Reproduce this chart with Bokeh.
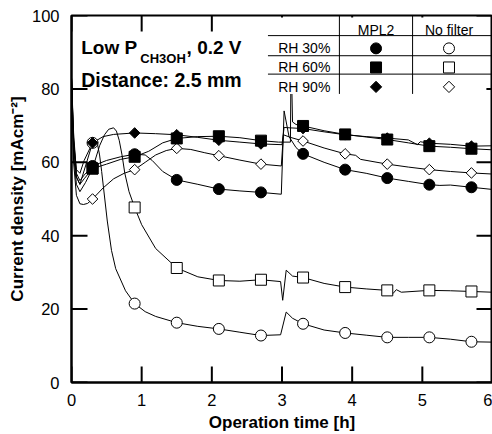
import math
from bokeh.plotting import figure
from bokeh.models import Range1d, FixedTicker
from bokeh.core.properties import value
from bokeh.embed import file_html
from bokeh.resources import INLINE

FONT = "Liberation Sans"

# ---------------- data ----------------
x_ticks = [0, 1, 2, 3, 4, 5, 6]
y_ticks = [0, 20, 40, 60, 80, 100]

series_names = ["MPL2", "No filter"]
rh_labels = ["RH 30%", "RH 60%", "RH 90%"]

# marker times (h)
mark_t = [0.3, 0.9, 1.5, 2.1, 2.7, 3.3, 3.9, 4.5, 5.1, 5.7]

# MPL2, RH 30 %
c30m_t = [0, 0.03, 0.07, 0.12, 0.18, 0.3, 0.5, 0.7, 0.9, 1.05, 1.15, 1.3, 1.5, 1.8, 2.1, 2.4, 2.7, 2.99, 3.03, 3.1, 3.2, 3.3, 3.6, 3.9, 4.2, 4.5, 4.8, 5.1, 5.25, 5.4, 5.7, 6.0]
c30m_v = [83, 68, 57, 55, 56.5, 59, 60.5, 61.5, 62.2, 62, 60.5, 57.5, 55.2, 54, 52.7, 52.2, 51.8, 51.3, 74, 67, 64, 62.3, 60, 58, 57, 55.7, 54.8, 53.9, 53.7, 53.8, 53.2, 52.6]
m30m_v = [59, 62.2, 55.2, 52.7, 51.8, 62.3, 58, 55.7, 53.9, 53.2]

# MPL2, RH 60 %
c60m_t = [0, 0.03, 0.07, 0.12, 0.18, 0.3, 0.5, 0.7, 0.9, 1.1, 1.3, 1.5, 1.8, 2.1, 2.4, 2.7, 2.95, 3.12, 3.13, 3.15, 3.2, 3.3, 3.6, 3.9, 4.2, 4.5, 4.8, 5.1, 5.4, 5.7, 6.0]
c60m_v = [83, 66, 56, 54, 55.5, 58.3, 59.5, 60.8, 61.5, 63, 65.3, 66.5, 67, 67.1, 66.7, 65.9, 65.5, 65.5, 90, 71, 70.3, 69.9, 68.6, 67.6, 66.9, 66.2, 65.3, 64.4, 64.1, 63.7, 63.4]
m60m_v = [58.3, 61.5, 66.5, 67.1, 65.9, 69.9, 67.6, 66.2, 64.4, 63.7]

# MPL2, RH 90 %
c90m_t = [0, 0.03, 0.07, 0.12, 0.18, 0.3, 0.45, 0.6, 0.9, 1.2, 1.5, 1.8, 2.1, 2.4, 2.7, 3.0, 3.03, 3.1, 3.3, 3.6, 3.9, 4.2, 4.5, 4.8, 4.93, 4.97, 5.1, 5.4, 5.7, 6.0]
c90m_v = [83, 66, 58, 57, 60.5, 65.3, 67, 67.6, 68, 67.8, 67.5, 66.8, 66, 65.5, 65, 64.8, 69.5, 69.4, 69.2, 68.3, 67.5, 67, 66.6, 66.1, 64.8, 65.6, 65.2, 64.9, 64.4, 64.5]
m90m_v = [65.3, 68, 67.5, 66, 65, 69.2, 67.5, 66.6, 65.2, 64.4]

# No filter, RH 30 %
c30n_t = [0, 0.03, 0.07, 0.12, 0.2, 0.3, 0.36, 0.4, 0.43, 0.51, 0.57, 0.63, 0.77, 0.9, 1.05, 1.2, 1.5, 1.8, 2.1, 2.4, 2.7, 2.98, 3.06, 3.15, 3.3, 3.6, 3.9, 4.2, 4.5, 4.8, 5.1, 5.4, 5.7, 6.0]
c30n_v = [83, 64, 56, 54, 59, 65.3, 66, 62, 57.5, 44, 36, 31, 25, 21.5, 19.3, 18, 16.3, 15.3, 14.6, 13.7, 12.8, 13, 19.2, 17.5, 16, 14.3, 13.5, 12.9, 12.3, 12.3, 12.3, 11.8, 11.1, 11]
m30n_v = [65.3, 21.5, 16.3, 14.6, 12.8, 16, 13.5, 12.3, 12.3, 11.1]

# No filter, RH 60 %
c60n_t = [0, 0.03, 0.07, 0.12, 0.2, 0.3, 0.4, 0.47, 0.53, 0.6, 0.64, 0.68, 0.72, 0.76, 0.82, 0.9, 1.0, 1.2, 1.5, 1.8, 2.1, 2.4, 2.7, 2.98, 3.01, 3.06, 3.15, 3.3, 3.6, 3.9, 4.2, 4.5, 4.58, 4.63, 4.7, 5.1, 5.4, 5.7, 6.0]
c60n_v = [83, 62, 54, 52, 54.5, 58.3, 64.5, 67.5, 69, 69.4, 68.5, 66, 62, 57, 52, 47.7, 43, 36.5, 31.2, 28.8, 27.8, 27.6, 28, 27.5, 22.4, 30.6, 29, 28.6, 27, 26, 25.5, 25.1, 24.2, 25.3, 24.6, 25.1, 25, 24.8, 24.6]
m60n_v = [58.3, 47.7, 31.2, 27.8, 28, 28.6, 26, 25.1, 25.1, 24.8]

# No filter, RH 90 %
c90n_t = [0, 0.03, 0.07, 0.12, 0.17, 0.23, 0.3, 0.45, 0.6, 0.75, 0.9, 1.05, 1.2, 1.35, 1.5, 1.7, 1.9, 2.1, 2.4, 2.7, 2.99, 3.02, 3.12, 3.3, 3.6, 3.9, 4.05, 4.12, 4.5, 4.8, 5.1, 5.4, 5.7, 6.0]
c90n_v = [83, 60, 51, 48.7, 48.5, 48.8, 50, 53, 55.5, 57, 58, 60, 62, 63.2, 63.8, 63.5, 62.6, 61.8, 60.6, 59.5, 59, 67.5, 66.8, 65.8, 63.9, 62.3, 61.9, 60.8, 59.5, 58.7, 58, 57.5, 57.1, 56.8]
m90n_v = [50, 58, 63.8, 61.8, 59.5, 65.8, 62.3, 59.5, 58, 57.1]

# ---------------- figure ----------------
W, H = 492, 434
BL, BR, BT, BB = 71, 0, 15, 51
X0, X1, Y0, Y1 = 0, 6, 0, 100

p = figure(width=W, height=H, output_backend="svg", toolbar_location=None,
           x_range=Range1d(X0, X1), y_range=Range1d(Y0, Y1),
           min_border_left=BL, min_border_right=BR, min_border_top=BT, min_border_bottom=BB,
           background_fill_color="white", border_fill_color="white")
p.grid.visible = False
p.outline_line_color = "black"
p.outline_line_width = 2

p.xaxis.ticker = FixedTicker(ticks=x_ticks)
p.yaxis.ticker = FixedTicker(ticks=y_ticks)
for ax in p.axis:
    ax.major_tick_line_color = None
    ax.minor_tick_line_color = None
    ax.axis_line_color = "black"
    ax.axis_line_width = 2
    ax.major_label_text_font = FONT
    ax.major_label_text_font_size = "16.5px"
    ax.major_label_text_color = "black"
    ax.axis_label_text_font = FONT
    ax.axis_label_text_font_size = "17px"
    ax.axis_label_text_font_style = "bold"
    ax.axis_label_text_color = "black"

xb = p.xaxis[0]
xb.axis_label = "Operation time [h]"
xb.major_label_standoff = 5
xb.axis_label_standoff = 4

yl = p.yaxis[0]
yl.axis_label = "Current density [mAcm\u207b\u00b2]"
yl.major_label_standoff = 6
yl.axis_label_standoff = 2

# curves
curves = [(c30m_t, c30m_v), (c60m_t, c60m_v), (c90m_t, c90m_v),
          (c30n_t, c30n_v), (c60n_t, c60n_v), (c90n_t, c90n_v)]
for t, v in curves:
    p.line(t, v, line_color="black", line_width=1)

# open markers first, filled markers on top
p.scatter(mark_t, m30n_v, marker="circle", size=11, fill_color="white", line_color="black", line_width=1)
p.scatter(mark_t, m60n_v, marker="square", size=11, fill_color="white", line_color="black", line_width=1)
p.scatter(mark_t, m90n_v, marker="square", angle=math.pi / 4, size=7.5, fill_color="white", line_color="black", line_width=1)
p.scatter(mark_t, m30m_v, marker="circle", size=11, fill_color="black", line_color="black")
p.scatter(mark_t, m60m_v, marker="square", size=11, fill_color="black", line_color="black")
p.scatter(mark_t, m90m_v, marker="square", angle=math.pi / 4, size=7.5, fill_color="black", line_color="black")

# inward ticks on all four sides (16 px long)
fw, fh = W - BL - BR, H - BT - BB
tx = 16 * (X1 - X0) / fw
ty = 16 * (Y1 - Y0) / fh
n_x, n_y = len(x_ticks), len(y_ticks)
p.segment(x0=x_ticks, x1=x_ticks, y0=[Y0] * n_x, y1=[Y0 + ty] * n_x, line_color="black", line_width=2)
p.segment(x0=x_ticks, x1=x_ticks, y0=[Y1 - ty] * n_x, y1=[Y1] * n_x, line_color="black", line_width=2)
p.segment(x0=[X0] * n_y, x1=[X0 + tx] * n_y, y0=y_ticks, y1=y_ticks, line_color="black", line_width=2)
p.segment(x0=[X1 - tx] * n_y, x1=[X1] * n_y, y0=y_ticks, y1=y_ticks, line_color="black", line_width=2)

# title texts
p.text(x=[0.139], y=[91.2], text=["Low P"], text_font=value(FONT), text_font_size="19px",
       text_font_style="bold", text_baseline="alphabetic", text_align="left", text_color="black")
p.text(x=[0.98], y=[88.2], text=["CH3OH"], text_font=value(FONT), text_font_size="13px",
       text_font_style="bold", text_baseline="alphabetic", text_align="left", text_color="black")
p.text(x=[1.64], y=[91.2], text=[", 0.2 V"], text_font=value(FONT), text_font_size="19px",
       text_font_style="bold", text_baseline="alphabetic", text_align="left", text_color="black")
p.text(x=[0.139], y=[82.4], text=["Distance: 2.5 mm"], text_font=value(FONT), text_font_size="19.5px",
       text_font_style="bold", text_baseline="alphabetic", text_align="left", text_color="black")

# legend table (layout positions in data units)
tb_left, tb_right, tb_bottom, tb_top = 2.80, 5.913, 78.63, 99.45
col_x = [4.34, 5.38]
row_y = [91.04, 85.84, 80.55]
head_y = 96.16
hline_y = [94.52, 89.04, 84.03]
vline_x = [3.818, 4.861]
lab_right = 3.689

p.quad(left=[tb_left], right=[tb_right], bottom=[tb_bottom], top=[tb_top],
       fill_color="white", line_color=None, level="annotation")
p.segment(x0=[tb_left] * 3, x1=[X1] * 3, y0=hline_y, y1=hline_y,
          line_color="black", line_width=1, level="annotation")
p.segment(x0=vline_x, x1=vline_x, y0=[tb_bottom] * 2, y1=[Y1] * 2,
          line_color="black", line_width=1, level="annotation")
p.text(x=col_x, y=[head_y] * 2, text=series_names, text_font=value(FONT), text_font_size="14px",
       text_baseline="middle", text_align="center", text_color="black", level="annotation")
p.text(x=[lab_right] * 3, y=row_y, text=rh_labels, text_font=value(FONT), text_font_size="14px",
       text_baseline="middle", text_align="right", text_color="black", level="annotation")
p.scatter([col_x[0]], [row_y[0]], marker="circle", size=11, fill_color="black", line_color="black", level="annotation")
p.scatter([col_x[0]], [row_y[1]], marker="square", size=11, fill_color="black", line_color="black", level="annotation")
p.scatter([col_x[0]], [row_y[2]], marker="square", angle=math.pi / 4, size=8, fill_color="black", line_color="black", level="annotation")
p.scatter([col_x[1]], [row_y[0]], marker="circle", size=11, fill_color="white", line_color="black", level="annotation")
p.scatter([col_x[1]], [row_y[1]], marker="square", size=11, fill_color="white", line_color="black", level="annotation")
p.scatter([col_x[1]], [row_y[2]], marker="square", angle=math.pi / 4, size=8, fill_color="white", line_color="black", level="annotation")

open("out.html", "w").write(file_html(p, INLINE))
